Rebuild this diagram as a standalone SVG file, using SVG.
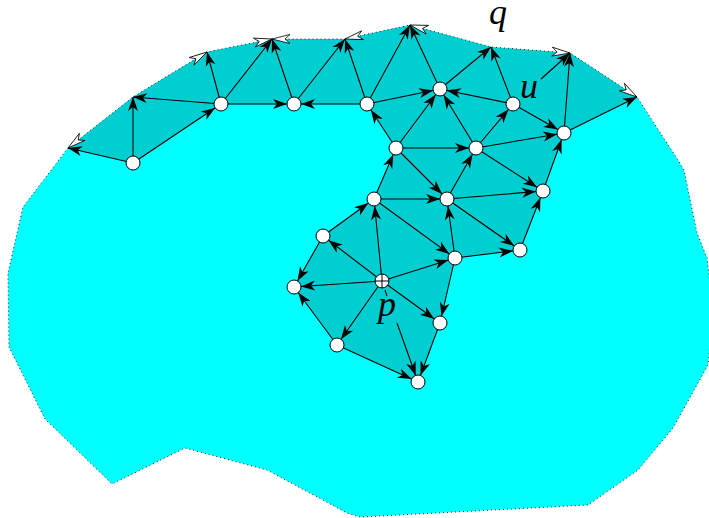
<svg xmlns="http://www.w3.org/2000/svg" width="709" height="518" viewBox="0 0 709 518">
<style>
.e{stroke:#000;stroke-width:1.1;fill:none}
.n{marker-end:url(#ah)}
.v{marker-end:url(#av)}
.nd{fill:#fff;stroke:#000;stroke-width:1}
.lbl{font-family:"Liberation Serif","Times New Roman",serif;font-style:italic;font-size:36px;fill:#000}
.bd{fill:none;stroke:#222;stroke-width:1;stroke-dasharray:1 3}
</style>
<defs>
<marker id="ah" markerUnits="userSpaceOnUse" orient="auto" refX="7" refY="0" markerWidth="20" markerHeight="20" overflow="visible"><path d="M0,0 L-14,-5 L-10,0 L-14,5 Z" fill="#000"/></marker>
<marker id="av" markerUnits="userSpaceOnUse" orient="auto" refX="0" refY="0" markerWidth="20" markerHeight="20" overflow="visible"><path d="M0,0 L-14,-5 L-10,0 L-14,5 Z" fill="#000"/></marker>
<path id="ha" d="M0,0 L-18,-4.5 L-13,0 L-18,4.5 Z" fill="#fff" stroke="#000" stroke-width="0.8"/>
</defs>
<g id="regions">
<polygon id="outer" points="68,148 133,97 207,52 272,39 345,39 410,25 491,47 570,53 637,97 678,160 684,170 697,233 707,258 713,310 708,365 673,428 638,470 588,505 360,517 347,513 267,470 185,448 112,484 45,419 9,347 8,273 23,207" fill="#00ffff"/>
<polygon id="inner" points="68,148 133,97 207,52 272,39 345,39 410,25 491,47 570,53 637,97 564,133 543,191 520,250 455,258 440,323 418,382 337,345 294,287 323,236 374,199 396,148 367,104 294,104 221,104 133,163" fill="#00ced1"/>
<polygon class="bd" points="68,148 133,97 207,52 272,39 345,39 410,25 491,47 570,53 637,97 678,160 684,170 697,233 707,258 713,310 708,365 673,428 638,470 588,505 360,517 347,513 267,470 185,448 112,484 45,419 9,347 8,273 23,207"/>
</g>
<g id="boundary-arrows">
<use href="#ha" transform="translate(68,148) rotate(141.9)"/>
<use href="#ha" transform="translate(207,52) rotate(-31.3)"/>
<use href="#ha" transform="translate(272,39) rotate(-11.3)"/>
<use href="#ha" transform="translate(272,39) rotate(180)"/>
<use href="#ha" transform="translate(345,39) rotate(167.8)"/>
<use href="#ha" transform="translate(410,25) rotate(-164.8)"/>
<use href="#ha" transform="translate(570,53) rotate(4.3)"/>
<use href="#ha" transform="translate(637,97) rotate(33.3)"/>
</g>
<g id="connectors">
<line class="e v" x1="133" y1="163" x2="68" y2="148"/>
<line class="e v" x1="133" y1="163" x2="133" y2="97"/>
<line class="e v" x1="221" y1="104" x2="133" y2="97"/>
<line class="e v" x1="221" y1="104" x2="207" y2="52"/>
<line class="e v" x1="221" y1="104" x2="272" y2="39"/>
<line class="e v" x1="294" y1="104" x2="272" y2="39"/>
<line class="e v" x1="294" y1="104" x2="345" y2="39"/>
<line class="e v" x1="367" y1="104" x2="345" y2="39"/>
<line class="e v" x1="367" y1="104" x2="410" y2="25"/>
<line class="e v" x1="440" y1="89" x2="410" y2="25"/>
<line class="e v" x1="440" y1="89" x2="491" y2="47"/>
<line class="e v" x1="513" y1="104" x2="491" y2="47"/>
<line class="e v" x1="564" y1="133" x2="570" y2="53"/>
<line class="e v" x1="564" y1="133" x2="637" y2="97"/>
<line class="e v" x1="541" y1="79" x2="570" y2="53"/>
<line class="e n" x1="133" y1="163" x2="221" y2="104"/>
<line class="e n" x1="221" y1="104" x2="294" y2="104"/>
<line class="e n" x1="367" y1="104" x2="294" y2="104"/>
<line class="e n" x1="396" y1="148" x2="367" y2="104"/>
<line class="e n" x1="367" y1="104" x2="440" y2="89"/>
<line class="e n" x1="396" y1="148" x2="440" y2="89"/>
<line class="e n" x1="476" y1="148" x2="440" y2="89"/>
<line class="e n" x1="513" y1="104" x2="440" y2="89"/>
<line class="e n" x1="476" y1="148" x2="513" y2="104"/>
<line class="e n" x1="513" y1="104" x2="564" y2="133"/>
<line class="e n" x1="476" y1="148" x2="564" y2="133"/>
<line class="e n" x1="543" y1="191" x2="564" y2="133"/>
<line class="e n" x1="374" y1="199" x2="396" y2="148"/>
<line class="e n" x1="396" y1="148" x2="476" y2="148"/>
<line class="e n" x1="396" y1="148" x2="447" y2="199"/>
<line class="e n" x1="447" y1="199" x2="476" y2="148"/>
<line class="e n" x1="476" y1="148" x2="543" y2="191"/>
<line class="e n" x1="447" y1="199" x2="543" y2="191"/>
<line class="e n" x1="520" y1="250" x2="543" y2="191"/>
<line class="e n" x1="374" y1="199" x2="447" y2="199"/>
<line class="e n" x1="455" y1="258" x2="447" y2="199"/>
<line class="e n" x1="447" y1="199" x2="520" y2="250"/>
<line class="e n" x1="455" y1="258" x2="520" y2="250"/>
<line class="e n" x1="323" y1="236" x2="374" y2="199"/>
<line class="e n" x1="382" y1="281" x2="374" y2="199"/>
<line class="e n" x1="374" y1="199" x2="455" y2="258"/>
<line class="e n" x1="382" y1="281" x2="323" y2="236"/>
<line class="e n" x1="382" y1="281" x2="455" y2="258"/>
<line class="e n" x1="382" y1="281" x2="294" y2="287"/>
<line class="e n" x1="323" y1="236" x2="294" y2="287"/>
<line class="e n" x1="337" y1="345" x2="294" y2="287"/>
<line class="e n" x1="382" y1="281" x2="337" y2="345"/>
<line class="e n" x1="382" y1="281" x2="440" y2="323"/>
<line class="e n" x1="455" y1="258" x2="440" y2="323"/>
<line class="e n" x1="337" y1="345" x2="418" y2="382"/>
<line class="e n" x1="440" y1="323" x2="418" y2="382"/>
<line class="e n" x1="397" y1="323" x2="418" y2="382"/>
<line class="e" x1="385" y1="290" x2="387" y2="296"/>
</g>
<g id="node-A"><circle class="nd" cx="133" cy="163" r="7"/></g>
<g id="node-B"><circle class="nd" cx="221" cy="104" r="7"/></g>
<g id="node-C"><circle class="nd" cx="294" cy="104" r="7"/></g>
<g id="node-D"><circle class="nd" cx="367" cy="104" r="7"/></g>
<g id="node-E"><circle class="nd" cx="440" cy="89" r="7"/></g>
<g id="node-F"><circle class="nd" cx="513" cy="104" r="7"/></g>
<g id="node-G"><circle class="nd" cx="564" cy="133" r="7"/></g>
<g id="node-H"><circle class="nd" cx="396" cy="148" r="7"/></g>
<g id="node-I"><circle class="nd" cx="476" cy="148" r="7"/></g>
<g id="node-J"><circle class="nd" cx="543" cy="191" r="7"/></g>
<g id="node-K"><circle class="nd" cx="447" cy="199" r="7"/></g>
<g id="node-L"><circle class="nd" cx="374" cy="199" r="7"/></g>
<g id="node-M"><circle class="nd" cx="323" cy="236" r="7"/></g>
<g id="node-N"><circle class="nd" cx="455" cy="258" r="7"/></g>
<g id="node-O"><circle class="nd" cx="520" cy="250" r="7"/></g>
<g id="node-P"><circle class="nd" cx="382" cy="281" r="7"/><path d="M375,281 H389 M382,274 V288" stroke="#000" stroke-width="1"/></g>
<g id="node-Q"><circle class="nd" cx="294" cy="287" r="7"/></g>
<g id="node-R"><circle class="nd" cx="337" cy="345" r="7"/></g>
<g id="node-S"><circle class="nd" cx="440" cy="323" r="7"/></g>
<g id="node-T"><circle class="nd" cx="418" cy="382" r="7"/></g>
<g id="labels">
<text class="lbl" x="489" y="24">q</text>
<text class="lbl" x="520" y="98">u</text>
<text class="lbl" x="378" y="316">p</text>
</g>
</svg>
